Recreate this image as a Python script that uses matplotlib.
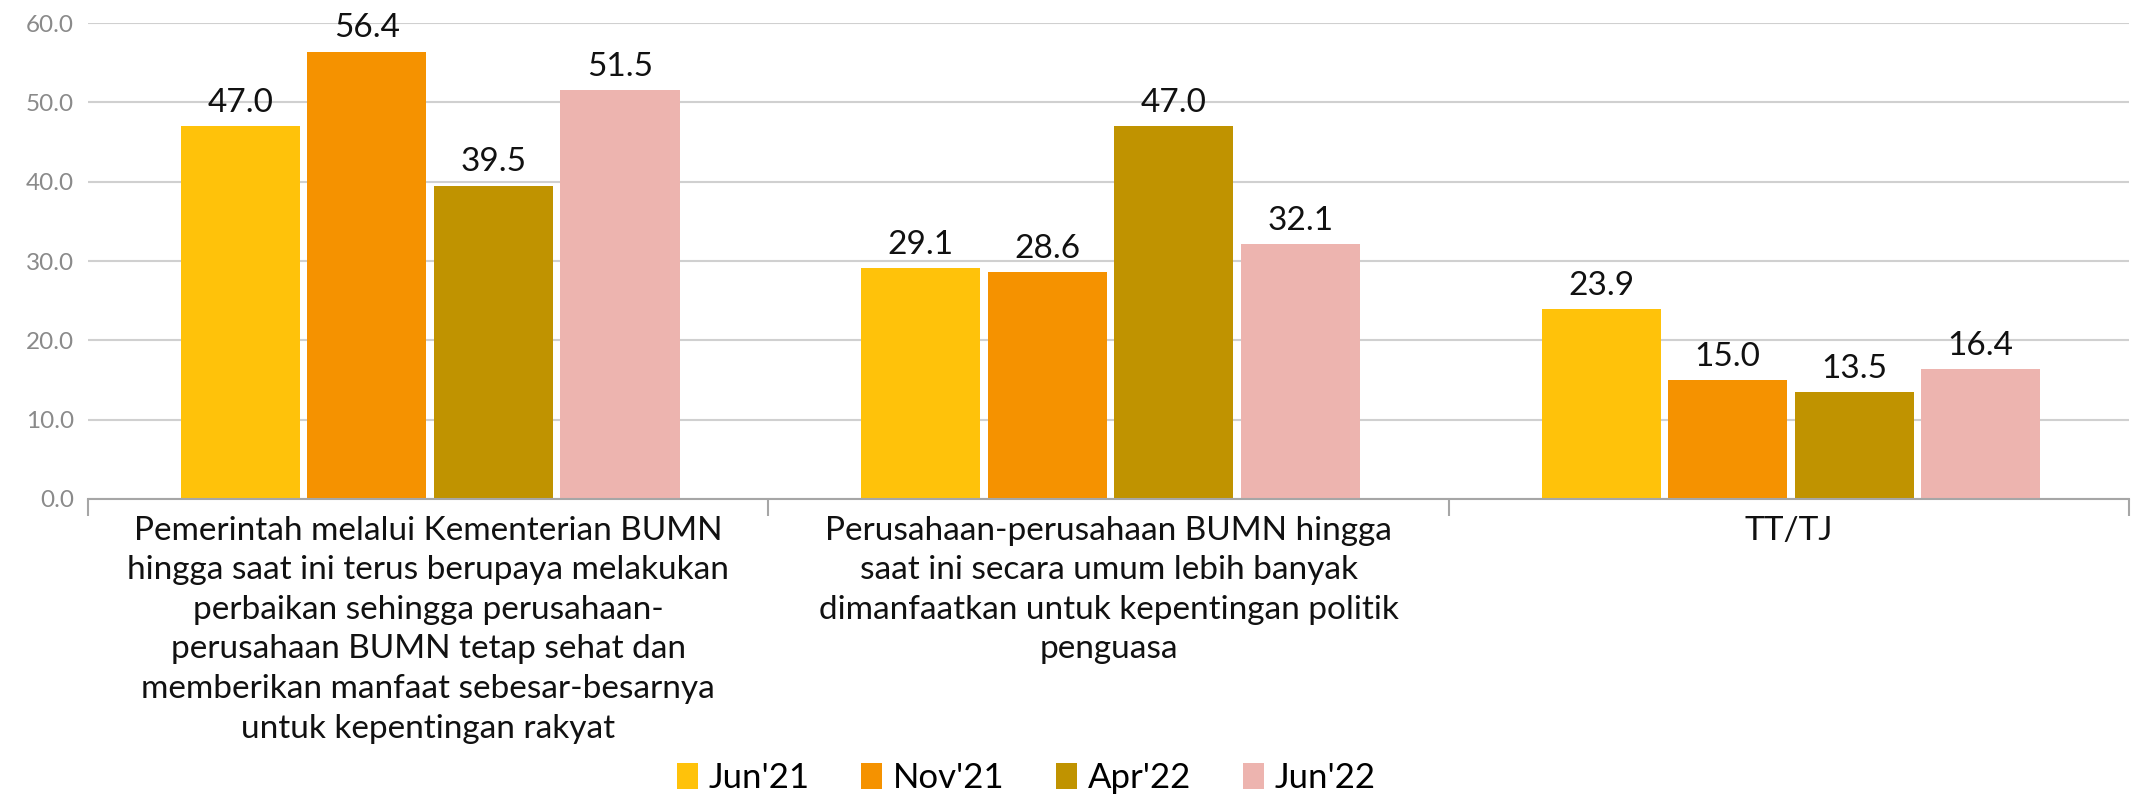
import numpy as np
import matplotlib.pyplot as plt

plt.rcParams['font.family'] = ['Lato', 'DejaVu Sans']

categories = [
    "Pemerintah melalui Kementerian BUMN\nhingga saat ini terus berupaya melakukan\nperbaikan sehingga perusahaan-\nperusahaan BUMN tetap sehat dan\nmemberikan manfaat sebesar-besarnya\nuntuk kepentingan rakyat",
    "Perusahaan-perusahaan BUMN hingga\nsaat ini secara umum lebih banyak\ndimanfaatkan untuk kepentingan politik\npenguasa",
    "TT/TJ",
]
series_names = ["Jun'21", "Nov'21", "Apr'22", "Jun'22"]
jun21 = [47.0, 29.1, 23.9]
nov21 = [56.4, 28.6, 15.0]
apr22 = [39.5, 47.0, 13.5]
jun22 = [51.5, 32.1, 16.4]
yticks = [0, 10, 20, 30, 40, 50, 60]

colors = ["#FFC20A", "#F59200", "#C09300", "#EDB4AF"]
values = [jun21, nov21, apr22, jun22]

fig = plt.figure(figsize=(21.33, 7.99), dpi=100)
ax = fig.add_axes([88 / 2133, 1 - 499 / 799, (2129 - 88) / 2133, (499 - 23) / 799])

x = np.arange(len(categories)) + 0.5
step = 0.186
width = 0.175
for i, (name, vals) in enumerate(zip(series_names, values)):
    pos = x + (i - 1.5) * step + 0.003
    bars = ax.bar(pos, vals, width, color=colors[i], label=name, zorder=3)
    for b, v in zip(bars, vals):
        ax.annotate(f"{v:.1f}", (b.get_x() + b.get_width() / 2, v),
                    xytext=(0, 6), textcoords="offset points",
                    ha="center", va="bottom", fontsize=24, color="#111111")

ax.set_xlim(0, 3)
ax.set_ylim(0, 60)
ax.set_yticks(yticks)
ax.set_yticklabels([f"{t:.1f}" for t in yticks], fontsize=17.5, color="#8a8a8a")
ax.tick_params(axis="y", length=0, pad=10)
ax.grid(axis="y", color="#d0d0d0", linewidth=1.5, zorder=0)

ax.set_xticks([0, 1, 2, 3])
ax.set_xticklabels([])
ax.tick_params(axis="x", which="major", length=12, width=1.5, color="#a6a6a6")
ax.set_xticks(x, minor=True)
ax.set_xticklabels(categories, minor=True, fontsize=24, color="#111111", linespacing=1.4)
ax.tick_params(axis="x", which="minor", length=0, pad=12)

for s in ["top", "right", "left"]:
    ax.spines[s].set_visible(False)
ax.spines["bottom"].set_color("#a6a6a6")
ax.spines["bottom"].set_linewidth(1.5)
ax.spines["bottom"].set_zorder(4)

fig.legend(loc="center", bbox_to_anchor=(0.481, 0.026), ncol=4, frameon=False,
           fontsize=25, handlelength=0.6, handleheight=0.8, handletextpad=0.3,
           columnspacing=1.5)

fig.savefig("out.png", dpi=100)
